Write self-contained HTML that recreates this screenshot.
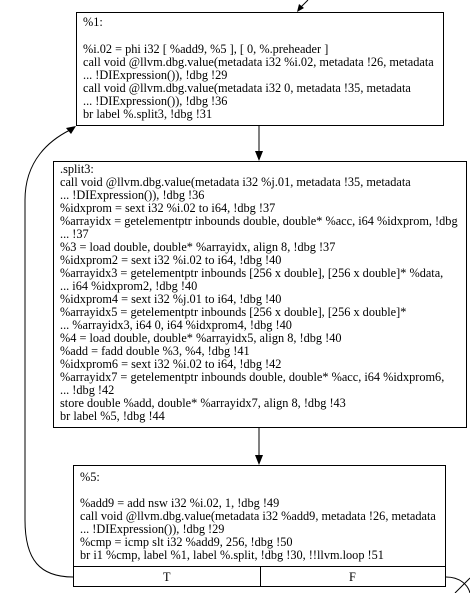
<!DOCTYPE html>
<html><head><style>body{margin:0;background:#fff}</style></head><body>
<svg width="470" height="593" xmlns="http://www.w3.org/2000/svg" font-family="Liberation Serif, serif" font-size="12.3" fill="#000">
<rect width="470" height="593" fill="#fff"/>
<path d="M308,0 L300,8" stroke="#000" fill="none"/>
<polygon points="297,12 299,4 304,8" fill="#000"/>
<rect x="76.5" y="12.5" width="367" height="113" fill="#fff" stroke="#000"/>
<g>
<text x="83" y="26">%1:</text>
<text x="83" y="53">%i.02 = phi i32 [ %add9, %5 ], [ 0, %.preheader ]</text>
<text x="83" y="66">call void @llvm.dbg.value(metadata i32 %i.02, metadata !26, metadata</text>
<text x="83" y="79">... !DIExpression()), !dbg !29</text>
<text x="83" y="92">call void @llvm.dbg.value(metadata i32 0, metadata !35, metadata</text>
<text x="83" y="105">... !DIExpression()), !dbg !36</text>
<text x="83" y="118">br label %.split3, !dbg !31</text>
</g>
<path d="M259,126 V152" stroke="#000"/>
<polygon points="255,151 263,151 259,161" fill="#000"/>
<rect x="53.5" y="161.5" width="413" height="266" fill="#fff" stroke="#000"/>
<g>
<text x="60" y="173">.split3:</text>
<text x="60" y="186">call void @llvm.dbg.value(metadata i32 %j.01, metadata !35, metadata</text>
<text x="60" y="199">... !DIExpression()), !dbg !36</text>
<text x="60" y="212">%idxprom = sext i32 %i.02 to i64, !dbg !37</text>
<text x="60" y="225">%arrayidx = getelementptr inbounds double, double* %acc, i64 %idxprom, !dbg</text>
<text x="60" y="238">... !37</text>
<text x="60" y="251">%3 = load double, double* %arrayidx, align 8, !dbg !37</text>
<text x="60" y="264">%idxprom2 = sext i32 %i.02 to i64, !dbg !40</text>
<text x="60" y="277">%arrayidx3 = getelementptr inbounds [256 x double], [256 x double]* %data,</text>
<text x="60" y="290">... i64 %idxprom2, !dbg !40</text>
<text x="60" y="303">%idxprom4 = sext i32 %j.01 to i64, !dbg !40</text>
<text x="60" y="316">%arrayidx5 = getelementptr inbounds [256 x double], [256 x double]*</text>
<text x="60" y="329">... %arrayidx3, i64 0, i64 %idxprom4, !dbg !40</text>
<text x="60" y="342">%4 = load double, double* %arrayidx5, align 8, !dbg !40</text>
<text x="60" y="355">%add = fadd double %3, %4, !dbg !41</text>
<text x="60" y="368">%idxprom6 = sext i32 %i.02 to i64, !dbg !42</text>
<text x="60" y="381">%arrayidx7 = getelementptr inbounds double, double* %acc, i64 %idxprom6,</text>
<text x="60" y="394">... !dbg !42</text>
<text x="60" y="407">store double %add, double* %arrayidx7, align 8, !dbg !43</text>
<text x="60" y="420">br label %5, !dbg !44</text>
</g>
<path d="M259,428 V456" stroke="#000"/>
<polygon points="255,455 263,455 259,465" fill="#000"/>
<rect x="73.5" y="465.5" width="372" height="121" fill="#fff" stroke="#000"/>
<g>
<text x="80" y="481">%5:</text>
<text x="80" y="507">%add9 = add nsw i32 %i.02, 1, !dbg !49</text>
<text x="80" y="520">call void @llvm.dbg.value(metadata i32 %add9, metadata !26, metadata</text>
<text x="80" y="533">... !DIExpression()), !dbg !29</text>
<text x="80" y="546">%cmp = icmp slt i32 %add9, 256, !dbg !50</text>
<text x="80" y="559">br i1 %cmp, label %1, label %.split, !dbg !30, !!llvm.loop !51</text>
</g>
<path d="M73,566.5 H446 M260.5,566 V587" stroke="#000"/>
<text x="163" y="581">T</text>
<text x="349" y="581">F</text>
<path d="M73,577 C40,577 25,560 25,520 L25,200 C25,160 50,140 70,130" stroke="#000" fill="none"/>
<polygon points="76,126 66,128 71,134" fill="#000"/>
<path d="M446,577 C460,577 468,585 470,593 M455,593 L470,578" stroke="#000" fill="none"/>
</svg>
</body></html>
